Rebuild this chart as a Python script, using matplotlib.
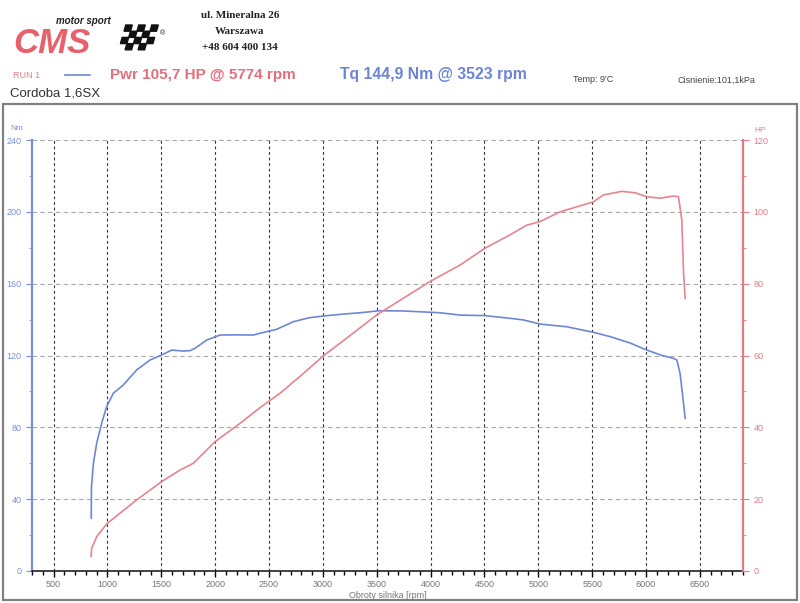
"""Wykres hamowni: moc i moment obrotowy Cordoba 1,6SX."""

import matplotlib
matplotlib.use("Agg")
import matplotlib.pyplot as plt
from matplotlib.patches import Polygon, Rectangle
from matplotlib.ticker import MultipleLocator

plt.rcParams["font.family"] = ["Liberation Sans", "DejaVu Sans"]

NIEBIESKI = "#6f86d6"
CZERWONY = "#e8848f"
OS_NIEB = "#7b8fd8"
OS_CZER = "#e47a88"

# moment obrotowy [Nm] w funkcji obrotów
obroty_tq = [850, 852, 870, 901, 950, 993, 1055, 1148, 1272, 1396, 1504, 1597,
             1700, 1767, 1813, 1922, 2045, 2200, 2355, 2417, 2572, 2726, 2870,
             3005, 3180, 3345, 3523, 3747, 3920, 4088, 4274, 4506, 4738, 4862,
             5017, 5265, 5512, 5667, 5850, 6007, 6150, 6254, 6286, 6316, 6341,
             6363]
moment = [29.5, 46.8, 60.0, 71.3, 83.0, 91.5, 99.0, 103.6, 112.0, 117.5, 120.3,
          123.0, 122.5, 122.7, 124.0, 128.6, 131.4, 131.5, 131.4, 132.4, 134.6,
          138.8, 141.0, 142.0, 143.0, 143.8, 144.9, 144.8, 144.3, 143.8, 142.5,
          142.2, 140.7, 139.8, 137.5, 136.0, 132.9, 130.5, 127.0, 123.0, 120.0,
          118.4, 117.5, 110.0, 97.0, 85.0]

# moc [HP] w funkcji obrotów
obroty_pw = [848, 854, 901, 993, 1117, 1272, 1504, 1674, 1798, 1999, 2231, 2417,
             2603, 2800, 3005, 3250, 3500, 3750, 3995, 4274, 4506, 4738, 4893,
             5017, 5202, 5357, 5512, 5605, 5774, 5900, 6007, 6131, 6254, 6301,
             6332, 6347, 6363]
moc = [4.0, 6.3, 9.6, 13.1, 16.1, 19.8, 24.9, 28.1, 30.0, 36.0, 41.1, 45.5,
       49.5, 54.5, 59.9, 65.5, 71.3, 76.0, 80.6, 85.2, 89.9, 93.6, 96.3, 97.3,
       100.0, 101.4, 102.8, 104.7, 105.7, 105.3, 104.2, 103.8, 104.4, 104.2,
       97.7, 83.8, 75.9]

fig = plt.figure(figsize=(8.0, 6.03), dpi=100)

# tło w pikselach: nagłówek, logo, ramka
tlo = fig.add_axes([0, 0, 1, 1], zorder=0)
tlo.set_xlim(0, 800)
tlo.set_ylim(603, 0)
tlo.axis("off")

tlo.add_patch(Rectangle((3, 104), 794, 496, fill=False, edgecolor="#808080", lw=1.6))

# logo
tlo.text(13, 53, "CMS", fontsize=25, fontweight="bold", fontstyle="italic",
         color="#e8606c", ha="left", va="baseline")
tlo.text(56, 24, "motor sport", fontsize=7, fontweight="bold", fontstyle="italic",
         color="#222222", ha="left", va="baseline")
for r in range(4):
    for c in range(5):
        if (r + c) % 2:
            continue
        x0 = 124 + c * 6.5 - r * 1.8
        y0 = 25 + r * 6.2
        tlo.add_patch(Polygon([(x0 + 1.8, y0), (x0 + 8.3, y0), (x0 + 6.5, y0 + 6.2),
                               (x0, y0 + 6.2)], closed=True, color="#111111"))
tlo.text(163, 34, "®", fontsize=5, color="#222222", ha="center", va="center")

for y, s in [(16, "ul. Mineralna 26"), (32, "Warszawa"), (48, "+48 604 400 134")]:
    tlo.text(240, y, s, fontsize=8, fontweight="bold", family="Liberation Serif",
             color="#222222", ha="center", va="center")

tlo.text(13, 76, "RUN 1", fontsize=6.5, color=OS_CZER, ha="left", va="center")
tlo.plot([65, 90], [75, 75], color=NIEBIESKI, lw=1.2)
tlo.text(110, 75, "Pwr 105,7 HP @ 5774 rpm", fontsize=11, fontweight="bold",
         color="#e36e7c", ha="left", va="center")
tlo.text(340, 75, "Tq 144,9 Nm @ 3523 rpm", fontsize=11.3, fontweight="bold",
         color="#6d84d6", ha="left", va="center")
tlo.text(573, 80, "Temp: 9'C", fontsize=6.5, color="#444444", ha="left", va="center")
tlo.text(678, 80, "Cisnienie:101,1kPa", fontsize=6.5, color="#444444",
         ha="left", va="center")
tlo.text(10, 94, "Cordoba 1,6SX", fontsize=9.5, color="#333333", ha="left", va="center")

# wykres główny
ax = fig.add_axes([32 / 800, 1 - 571 / 603, (743 - 32) / 800, (571 - 140) / 603],
                  zorder=2)
ax.patch.set_alpha(0)
ax.set_xlim(300, 6900)
ax.set_ylim(0, 240)

for x in range(500, 7000, 500):
    ax.axvline(x, color="#333333", lw=0.8, ls=(0, (2.5, 2.5)), zorder=1)
for y in range(40, 241, 40):
    ax.axhline(y, color="#a8a8a8", lw=0.8, ls=(0, (4, 3)), zorder=1)

ax.plot(obroty_tq, moment, color=NIEBIESKI, lw=1.2, zorder=3)

ax.xaxis.set_major_locator(MultipleLocator(500))
ax.xaxis.set_minor_locator(MultipleLocator(100))
ax.set_xticks(range(500, 7000, 500))
ax.tick_params(axis="x", which="major", direction="out", length=4, width=1,
               labelsize=6.5, labelcolor="#777777", pad=2.5)
ax.tick_params(axis="x", which="minor", direction="out", length=3, width=1)

ax.yaxis.set_major_locator(MultipleLocator(40))
ax.yaxis.set_minor_locator(MultipleLocator(20))
ax.tick_params(axis="y", which="both", colors=OS_NIEB, labelcolor=OS_NIEB,
               labelsize=6.5, direction="out")
ax.tick_params(axis="y", which="major", length=4)
ax.tick_params(axis="y", which="minor", length=2)

ax.spines["top"].set_visible(False)
ax.spines["right"].set_visible(False)
ax.spines["left"].set_color(OS_NIEB)
ax.spines["left"].set_linewidth(1.6)
ax.spines["bottom"].set_color("#222222")
ax.spines["bottom"].set_linewidth(1.2)

ax.set_xlabel("Obroty silnika [rpm]", fontsize=6.5, color="#777777", labelpad=1.5)

ax2 = ax.twinx()
ax2.set_ylim(0, 120)
ax2.plot(obroty_pw, moc, color=CZERWONY, lw=1.2, zorder=3)
ax2.yaxis.set_major_locator(MultipleLocator(20))
ax2.yaxis.set_minor_locator(MultipleLocator(10))
ax2.tick_params(axis="y", which="both", colors=OS_CZER, labelcolor=OS_CZER,
                labelsize=6.5, direction="out")
ax2.tick_params(axis="y", which="major", length=4)
ax2.tick_params(axis="y", which="minor", length=2)
for s in ["top", "left", "bottom"]:
    ax2.spines[s].set_visible(False)
ax2.spines["right"].set_color(OS_CZER)
ax2.spines["right"].set_linewidth(1.6)

tlo.text(17, 128, "Nm", fontsize=6, color=OS_NIEB, ha="center", va="center")
tlo.text(760, 131, "HP", fontsize=6, color=OS_CZER, ha="center", va="center")

fig.savefig("out.png", dpi=100)
